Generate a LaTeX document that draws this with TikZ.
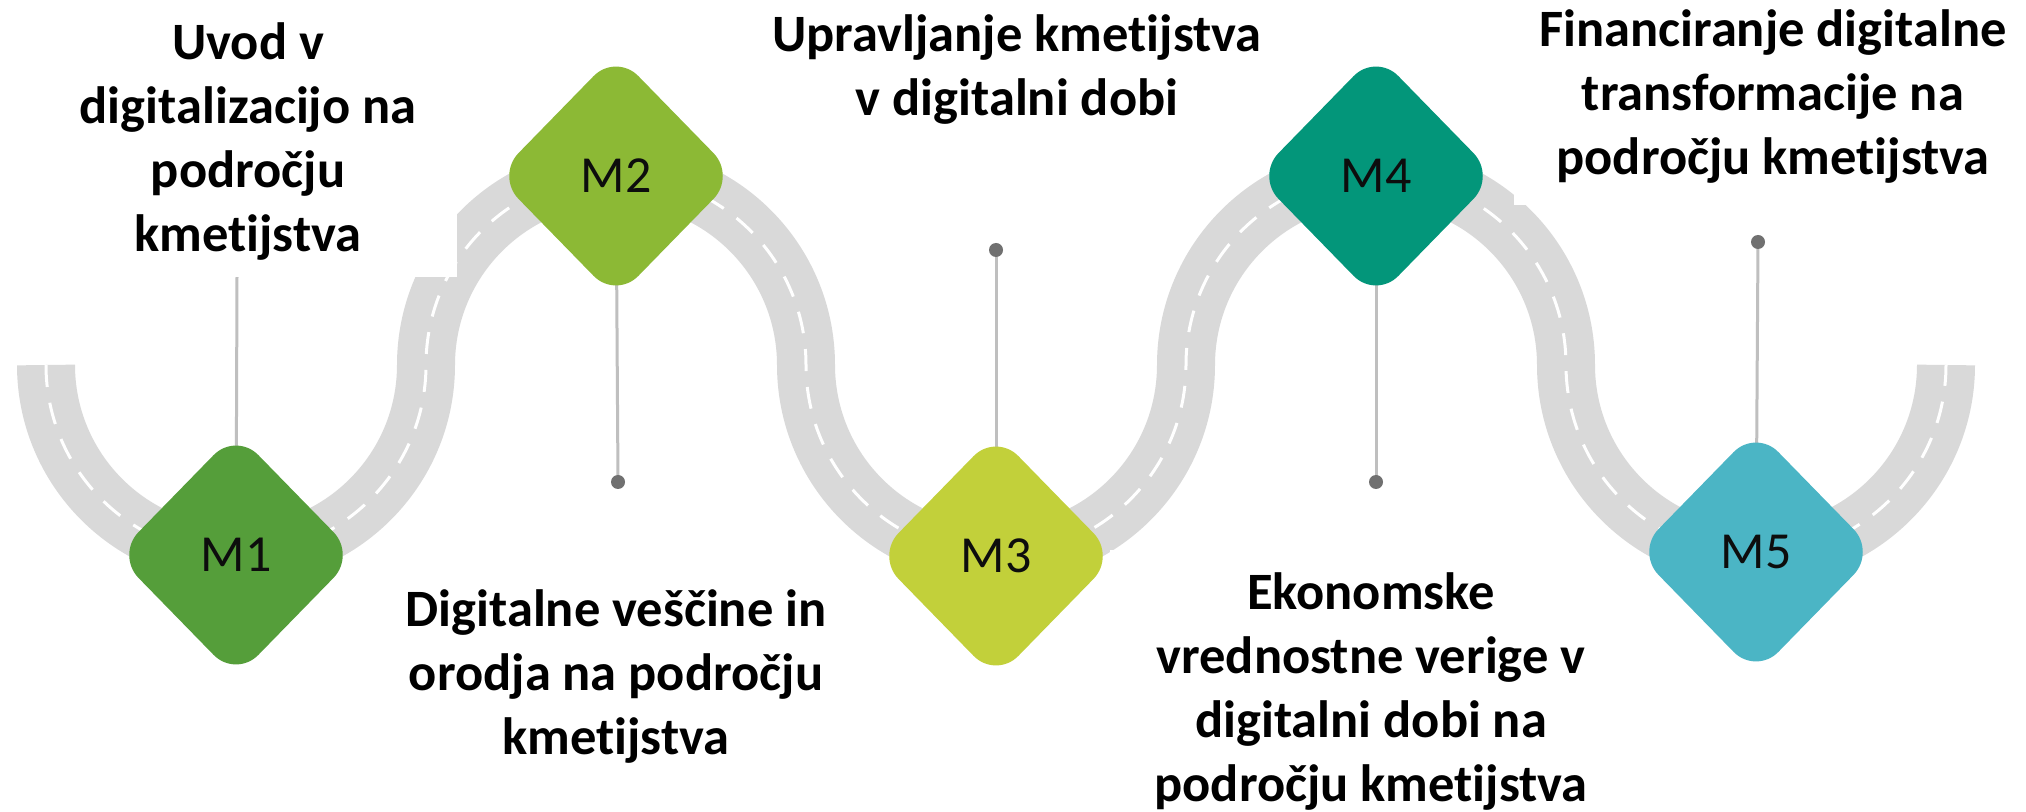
\documentclass[tikz,border=0pt]{standalone}
\usepackage{fontspec}
\setmainfont{Carlito}[Ligatures={NoCommon}]
\usetikzlibrary{shapes.geometric}
\pgfdeclarelayer{bg}
\pgfsetlayers{bg,main}
\definecolor{roadc}{HTML}{D9D9D9}
\definecolor{stemc}{HTML}{BFBFBF}
\definecolor{pinc}{HTML}{707070}
\definecolor{labelc}{HTML}{0D0D0D}
\definecolor{mone}{HTML}{559E3A}
\definecolor{mtwo}{HTML}{8CB935}
\definecolor{mthree}{HTML}{C2D03A}
\definecolor{mfour}{HTML}{03967A}
\definecolor{mfive}{HTML}{4BB5C5}
\tikzset{
  road/.style={draw=roadc, line width=29pt},
  roadmark/.style={draw=white, line width=1.5pt, dash pattern=on 11pt off 8pt},
  milestone/.style={shape=diamond, minimum width=120pt, minimum height=123pt,
    inner sep=0pt, rounded corners=16pt, text=labelc,
    font=\fontsize{26pt}{30pt}\selectfont},
  title/.style={anchor=base, inner sep=0pt, text=black,
    font=\fontsize{26.25pt}{32pt}\selectfont\bfseries},
  stem/.style={draw=stemc, line width=1.5pt},
  pin/.style={fill=pinc},
  mask/.style={fill=white},
}
\newcommand{\lines}[1]{\begin{tabular}[t]{@{}c@{}}#1\end{tabular}}
\begin{document}
\begin{tikzpicture}[x=0.5pt, y=-0.5pt]
\useasboundingbox (0,0) rectangle (2026,812);
% milestones
\node[milestone, fill=mone]   (M1) at (236,555) {M1};
\node[milestone, fill=mtwo]   (M2) at (616,176) {M2};
\node[milestone, fill=mthree] (M3) at (996,556) {M3};
\node[milestone, fill=mfour]  (M4) at (1376,176) {M4};
\node[milestone, fill=mfive]  (M5) at (1756,552) {M5};
% titles
\node[title] (T1) at (248,60) {\lines{Uvod v\\digitalizacijo na\\področju\\kmetijstva}};
\node[title] (T2) at (616,627) {\lines{Digitalne veščine in\\orodja na področju\\kmetijstva}};
\node[title] (T3) at (1017,52) {\lines{Upravljanje kmetijstva\\v digitalni dobi}};
\node[title] (T4) at (1371,610) {\lines{Ekonomske\\vrednostne verige v\\digitalni dobi na\\področju kmetijstva}};
\node[title] (T5) at (1773,47) {\lines{Financiranje digitalne\\transformacije na\\področju kmetijstva}};
% stem ends
\coordinate (p1) at (237,277);
\coordinate (p2) at (618,482);
\coordinate (p3) at (996,250);
\coordinate (p4) at (1376,482);
\coordinate (p5) at (1758,242);
\begin{pgfonlayer}{bg}
  \fill[white] (0,0) rectangle (2026,812);
  \path[road] (46,365)
    arc[start angle=180, end angle=360, radius=95pt]
    arc[start angle=180, end angle=0,   radius=95pt]
    arc[start angle=180, end angle=360, radius=95pt]
    arc[start angle=180, end angle=0,   radius=95pt]
    arc[start angle=180, end angle=360, radius=95pt];
  \path[roadmark] (46,365)
    arc[start angle=180, end angle=360, radius=95pt]
    arc[start angle=180, end angle=0,   radius=95pt]
    arc[start angle=180, end angle=360, radius=95pt]
    arc[start angle=180, end angle=0,   radius=95pt]
    arc[start angle=180, end angle=360, radius=95pt];
  \draw[stem] (p1) -- (M1.center);
  \draw[stem] (M2.center) -- (p2);
  \draw[stem] (p3) -- (M3.center);
  \draw[stem] (M4.center) -- (p4);
  \draw[stem] (p5) -- (M5.center);
  \fill[pin] (p2) circle (3.5pt);
  \fill[pin] (p3) circle (3.5pt);
  \fill[pin] (p4) circle (3.5pt);
  \fill[pin] (p5) circle (3.5pt);
  \fill[mask] (0,0) rectangle (457,277);
  \fill[mask] (1514,0) rectangle (2026,205);
  \fill[mask] (1110,550) rectangle (1600,812);
\end{pgfonlayer}
\end{tikzpicture}
\end{document}
